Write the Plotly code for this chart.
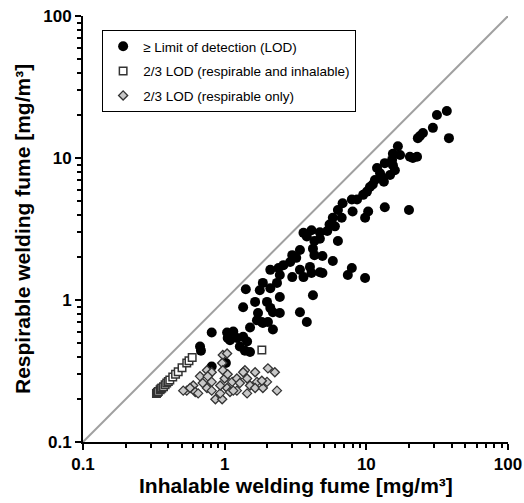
import plotly.graph_objects as go

# ≥ LOD (black circles): inhalable (x), respirable (y) in mg/m³
lod_x = [37.0, 31.5, 29.5, 25.1, 23.9, 23.1, 38.3, 16.7, 15.4, 17.3, 20.3, 22.8, 21.3, 15.2,
         15.4, 15.9, 14.7, 13.5, 12.5, 11.9, 13.1, 11.5, 13.3, 11.1, 10.6, 10.1, 9.5, 8.6,
         7.9, 6.8, 8.0, 6.3, 5.8, 6.7, 10.3, 9.8, 13.5, 20.0, 5.5, 6.0, 5.3, 4.7, 4.1, 3.6,
         3.8, 4.3, 4.7, 6.3, 4.2, 3.4, 3.0, 3.2, 4.3, 4.9, 5.8, 2.9, 4.0, 3.4, 3.0, 3.6,
         4.7, 4.9, 4.1, 7.9, 7.4, 9.8, 2.6, 2.4, 2.1, 2.45, 2.34, 1.86, 2.1, 1.77, 1.41,
         2.45, 4.2, 1.64, 1.99, 1.35, 2.1, 2.19, 1.72, 2.45, 3.4, 3.8, 1.83, 2.02, 1.69,
         1.51, 2.19, 1.15, 1.05, 1.22, 1.35, 1.44, 1.28, 1.39, 1.51, 0.81, 0.67, 0.68,
         1.02, 0.81, 1.04, 1.09, 1.86]
lod_y = [21.4, 20.1, 16.3, 15.0, 14.3, 13.8, 13.8, 12.1, 10.7, 10.5, 10.2, 10.2, 10.0, 9.7,
         8.9, 8.2, 7.6, 9.2, 7.8, 8.5, 7.2, 7.0, 6.8, 6.5, 6.25, 5.8, 5.5, 5.1,
         5.1, 4.8, 4.2, 4.3, 3.8, 3.8, 4.2, 3.8, 4.5, 4.3, 3.4, 3.3, 3.06, 3.0, 3.1, 2.97,
         2.8, 2.6, 2.7, 2.6, 2.3, 2.25, 2.07, 1.98, 2.07, 2.04, 1.88, 1.85, 1.71, 1.63, 1.45, 1.45,
         1.57, 1.55, 1.55, 1.68, 1.50, 1.43, 1.76, 1.68, 1.63, 1.50, 1.32, 1.32, 1.21, 1.17, 1.19,
         1.05, 1.08, 0.97, 0.97, 0.89, 0.88, 0.82, 0.81, 0.81, 0.82, 0.70, 0.70, 0.70, 0.72,
         0.64, 0.62, 0.60, 0.54, 0.54, 0.55, 0.51, 0.47, 0.44, 0.43, 0.59, 0.47, 0.44,
         0.36, 0.34, 0.59, 0.52, 0.69]

# 2/3 LOD (respirable and inhalable): open squares
both_x = [0.33, 0.335, 0.34, 0.35, 0.355, 0.36, 0.37, 0.38, 0.39, 0.40, 0.41, 0.43, 0.45,
          0.47, 0.50, 0.54, 0.56, 0.59, 1.83]
both_y = [0.22, 0.223, 0.227, 0.233, 0.237, 0.24, 0.245, 0.253, 0.26, 0.267, 0.273, 0.287, 0.30,
          0.313, 0.333, 0.36, 0.373, 0.393, 0.445]

# 2/3 LOD (respirable only): grey diamonds
resp_x = [0.97, 1.04, 0.96, 0.97, 0.75, 0.81, 0.67, 0.76, 0.70, 0.60, 0.54, 0.51, 0.57, 0.62,
          0.65, 0.75, 0.81, 0.86, 0.96, 0.93, 1.04, 1.09, 1.13, 1.00, 1.05, 1.22, 1.28, 1.22,
          1.39, 1.44, 1.51, 1.44, 1.64, 1.69, 1.64, 1.86, 1.99, 2.02, 2.26, 2.34, 0.81, 1.35,
          0.93, 1.15, 1.83]
resp_y = [0.41, 0.42, 0.36, 0.32, 0.32, 0.31, 0.29, 0.29, 0.26, 0.25, 0.23, 0.23, 0.24, 0.225,
          0.22, 0.24, 0.23, 0.20, 0.20, 0.22, 0.24, 0.225, 0.265, 0.28, 0.30, 0.28, 0.26, 0.23,
          0.32, 0.28, 0.25, 0.22, 0.31, 0.265, 0.24, 0.24, 0.265, 0.33, 0.31, 0.23, 0.265, 0.31,
          0.25, 0.23, 0.27]

tick_vals = [0.1, 1, 10, 100]
tick_text = ["0.1", "1", "10", "100"]
minor_vals = [k * d for d in (0.1, 1, 10) for k in range(2, 10)]
diag = [0.1, 100]

FONT = "Liberation Sans, Arial, sans-serif"

fig = go.Figure()
fig.add_trace(go.Scatter(x=diag, y=diag, mode="lines", line=dict(color="#a0a0a0", width=2),
                         showlegend=False, hoverinfo="skip"))
fig.add_trace(go.Scatter(x=lod_x, y=lod_y, mode="markers", name="≥ Limit of detection (LOD)",
                         legendgroup="a",
                         marker=dict(symbol="circle", size=10, color="black", line=dict(width=0))))
fig.add_trace(go.Scatter(x=both_x, y=both_y, mode="markers", name="2/3 LOD (respirable and inhalable)",
                         legendgroup="b",
                         marker=dict(symbol="square", size=7.5, color="white",
                                     line=dict(width=1.5, color="#333333"))))
fig.add_trace(go.Scatter(x=resp_x, y=resp_y, mode="markers", name="2/3 LOD (respirable only)",
                         legendgroup="c",
                         marker=dict(symbol="diamond", size=7, color="#c8c8c8",
                                     line=dict(width=1.3, color="#333333"))))

axis_common = dict(
    type="log", range=[-1, 2], tickmode="array", tickvals=tick_vals, ticktext=tick_text,
    showgrid=False, zeroline=False, showline=True, linecolor="black", linewidth=2,
    ticks="outside", ticklen=6, tickwidth=2, tickcolor="black", automargin=False,
    tickfont=dict(family=FONT, size=17, color="black", weight="bold"),
    minor=dict(tickmode="array", tickvals=minor_vals, ticks="outside", ticklen=4,
               tickwidth=1.5, tickcolor="black", showgrid=False),
)

fig.update_layout(
    width=524, height=503,
    margin=dict(l=83, r=16, t=16, b=61),
    plot_bgcolor="white", paper_bgcolor="white",
    font=dict(family=FONT, color="black"),
    xaxis=dict(**axis_common),
    yaxis=dict(**axis_common),
    legend=dict(x=0.045, y=0.967, xanchor="left", yanchor="top",
                bordercolor="black", borderwidth=1, bgcolor="white",
                traceorder="grouped", tracegroupgap=4,
                font=dict(family=FONT, size=13.5, color="black")),
    annotations=[
        dict(text="Inhalable welding fume [mg/m³]", xref="paper", yref="paper",
             x=0.5, y=-0.101, xanchor="center", yanchor="middle", showarrow=False,
             font=dict(family=FONT, size=21, color="black", weight="bold")),
        dict(text="Respirable welding fume [mg/m³]", xref="paper", yref="paper",
             x=-0.1435, y=0.5, xanchor="center", yanchor="middle", showarrow=False,
             textangle=-90,
             font=dict(family=FONT, size=21, color="black", weight="bold")),
    ],
)

fig.write_html("out.html", config={"displayModeBar": False},
               post_script="document.body.style.margin='0px';")
